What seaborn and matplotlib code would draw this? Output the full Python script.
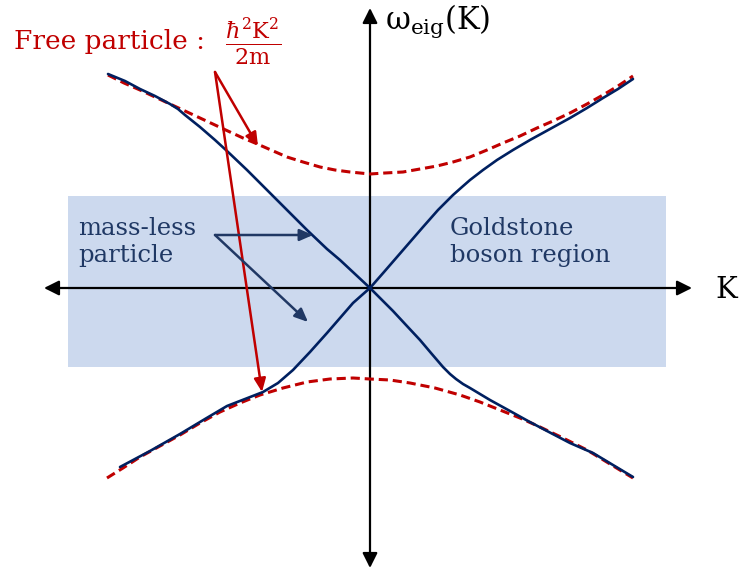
"""Schematic dispersion: free particle vs mass-less (Goldstone) branch."""

import matplotlib.pyplot as plt
import seaborn as sns

# free particle curves (dashed)
free_up_k = [-2.62, -2.46, -2.30, -2.15, -2.00, -1.85, -1.70, -1.55, -1.40, -1.27, -1.15,
             -0.99, -0.83, -0.67, -0.50, -0.35, -0.20, -0.10, 0.00, 0.15, 0.33, 0.50,
             0.67, 0.83, 1.00, 1.17, 1.33, 1.50, 1.67, 1.83, 2.00, 2.17, 2.33, 2.48, 2.63]
free_up_w = [2.13, 2.05, 1.98, 1.91, 1.84, 1.77, 1.70, 1.63, 1.56, 1.50, 1.45,
             1.38, 1.31, 1.26, 1.21, 1.18, 1.16, 1.15, 1.14, 1.15, 1.16, 1.19,
             1.22, 1.26, 1.31, 1.38, 1.45, 1.52, 1.60, 1.67, 1.75, 1.84, 1.93, 2.02, 2.12]
free_lo_k = [-2.63, -2.47, -2.30, -2.10, -1.90, -1.70, -1.50, -1.30, -1.10, -0.87, -0.63,
             -0.40, -0.17, 0.00, 0.20, 0.40, 0.65, 0.90, 1.10, 1.30, 1.50, 1.70, 1.93,
             2.17, 2.40, 2.63]
free_lo_w = [-1.90, -1.80, -1.69, -1.58, -1.47, -1.35, -1.24, -1.15, -1.07, -1.00, -0.94,
             -0.91, -0.90, -0.91, -0.92, -0.95, -1.00, -1.07, -1.14, -1.22, -1.30, -1.39,
             -1.50, -1.62, -1.76, -1.90]

# eigen-frequency branches (solid navy)
ul_k = [-2.62, -2.45, -2.30, -2.15, -2.00, -1.92, -1.85, -1.70, -1.55, -1.43, -1.23, -1.03,
        -0.83, -0.63, -0.43, -0.30, -0.15, 0.00]
ul_w = [2.14, 2.07, 1.99, 1.92, 1.84, 1.79, 1.73, 1.61, 1.48, 1.37, 1.18, 0.98,
        0.78, 0.58, 0.39, 0.28, 0.14, 0.00]
ur_k = [0.00, 0.14, 0.27, 0.40, 0.53, 0.68, 0.83, 0.92, 1.00, 1.13, 1.27, 1.43, 1.60,
        1.80, 2.00, 2.17, 2.33, 2.48, 2.63]
ur_w = [0.00, 0.16, 0.31, 0.46, 0.61, 0.78, 0.93, 1.01, 1.08, 1.18, 1.28, 1.38, 1.48,
        1.59, 1.70, 1.80, 1.90, 1.99, 2.09]
ll_k = [-2.50, -2.20, -1.90, -1.65, -1.43, -1.25, -1.07, -0.92, -0.77, -0.60, -0.43,
        -0.30, -0.17, -0.08, 0.00]
ll_w = [-1.79, -1.63, -1.46, -1.31, -1.18, -1.11, -1.04, -0.95, -0.82, -0.64, -0.45,
        -0.30, -0.15, -0.07, 0.00]
lr_k = [0.00, 0.11, 0.23, 0.36, 0.50, 0.61, 0.73, 0.80, 0.86, 0.93, 1.00, 1.10, 1.20,
        1.40, 1.58, 1.77, 2.00, 2.23, 2.43, 2.63]
lr_w = [0.00, -0.11, -0.23, -0.37, -0.52, -0.65, -0.79, -0.86, -0.91, -0.96, -1.00,
        -1.06, -1.12, -1.23, -1.33, -1.43, -1.55, -1.65, -1.77, -1.89]

# Goldstone boson region (shaded band)
region_k = (-3.02, 2.96)
region_w = (-0.79, 0.92)

RED = "#C00000"
NAVY = "#002060"
TEXT_NAVY = "#1F3864"

sns.set_style("white")
plt.rcParams["font.family"] = ["DejaVu Serif"]
plt.rcParams["mathtext.fontset"] = "dejavuserif"

fig = plt.figure(figsize=(7.42, 5.74), dpi=100)
ax = fig.add_axes([0, 0, 1, 1])
ax.set_xlim(-3.70, 3.72)
ax.set_ylim(-2.86, 2.88)
ax.axis("off")

ax.fill_between(region_k, region_w[0], region_w[1], color="#CCD9EE", lw=0, zorder=0)

# axes with arrows
arrow_kw = dict(arrowstyle="<|-|>,head_length=0.9,head_width=0.45", color="black", lw=1.6,
                shrinkA=0, shrinkB=0)
ax.annotate("", xy=(3.22, 0), xytext=(-3.26, 0), arrowprops=arrow_kw, zorder=2)
ax.annotate("", xy=(0, 2.80), xytext=(0, -2.80), arrowprops=arrow_kw, zorder=2)

for k, w in [(free_up_k, free_up_w), (free_lo_k, free_lo_w)]:
    sns.lineplot(x=k, y=w, ax=ax, color=RED, lw=2.2, sort=False, zorder=3,
                 linestyle=(0, (3.0, 1.6)))
for k, w in [(ul_k, ul_w), (ur_k, ur_w), (ll_k, ll_w), (lr_k, lr_w)]:
    sns.lineplot(x=k, y=w, ax=ax, color=NAVY, lw=1.9, sort=False, zorder=4,
                 solid_joinstyle="round")

# labels
ax.text(0.15, 2.67, r"ω$_{\mathrm{eig}}$(K)", fontsize=22, color="black", va="center",
        ha="left")
ax.text(3.45, -0.02, "K", fontsize=21, color="black", va="center", ha="left")
ax.text(-3.56, 2.47, "Free particle :", fontsize=19, color=RED, va="center", ha="left")
ax.text(-1.17, 2.46, r"$\frac{\hbar^2\mathrm{K}^2}{2\mathrm{m}}$", fontsize=23, color=RED,
        va="center", ha="center")
ax.text(-2.92, 0.46, "mass-less\nparticle", fontsize=17.5, color=TEXT_NAVY, va="center",
        ha="left", linespacing=1.25)
ax.text(0.80, 0.46, "Goldstone\nboson region", fontsize=17.5, color=TEXT_NAVY, va="center",
        ha="left", linespacing=1.25)

# pointer arrows
red_kw = dict(arrowstyle="-|>,head_length=0.8,head_width=0.35", color=RED, lw=1.8,
              shrinkA=0, shrinkB=0)
ax.annotate("", xy=(-1.12, 1.42), xytext=(-1.55, 2.16), arrowprops=red_kw, zorder=5)
ax.annotate("", xy=(-1.08, -1.04), xytext=(-1.55, 2.16), arrowprops=red_kw, zorder=5)
navy_kw = dict(arrowstyle="-|>,head_length=0.8,head_width=0.35", color="#203864", lw=1.8,
               shrinkA=0, shrinkB=0)
ax.annotate("", xy=(-0.57, 0.53), xytext=(-1.55, 0.53), arrowprops=navy_kw, zorder=5)
ax.annotate("", xy=(-0.62, -0.34), xytext=(-1.55, 0.53), arrowprops=navy_kw, zorder=5)

fig.savefig("out.png", dpi=100)
